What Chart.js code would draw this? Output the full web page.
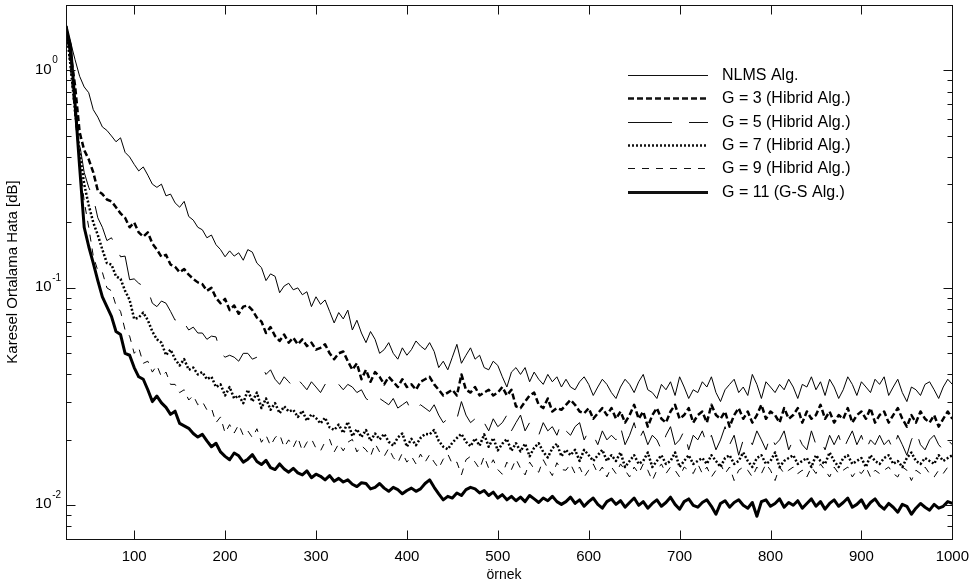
<!DOCTYPE html>
<html>
<head>
<meta charset="utf-8">
<title>Karesel Ortalama Hata</title>
<script src="https://cdn.jsdelivr.net/npm/chart.js@4.4.1/dist/chart.umd.min.js"></script>
<style>
  html, body { margin: 0; padding: 0; background: #fff; }
  #wrap { width: 978px; height: 586px; }
</style>
</head>
<body>
<div id="wrap"><canvas id="mse_chart" width="978" height="586"></canvas></div>
<script>
// sample index: 25 .. 1000, every 5th sample
var ornek = [];
for (var n = 25; n <= 1000; n += 5) ornek.push(n);

var seriesLabels = ["NLMS Alg.", "G = 3 (Hibrid Alg.)", "G = 5 (Hibrid Alg.)",
                    "G = 7 (Hibrid Alg.)", "G = 9 (Hibrid Alg.)", "G = 11 (G-S Alg.)"];

var nlms = [
  1.60, 1.35, 1.12, 0.94, 0.84, 0.79, 0.66, 0.61, 0.55, 0.53,
  0.50, 0.47, 0.49, 0.42, 0.40, 0.37, 0.345, 0.36, 0.33, 0.30,
  0.29, 0.30, 0.265, 0.27, 0.246, 0.235, 0.25, 0.213, 0.205, 0.19,
  0.185, 0.17, 0.175, 0.158, 0.15, 0.139, 0.148, 0.14, 0.145, 0.134,
  0.15, 0.146, 0.13, 0.124, 0.108, 0.116, 0.113, 0.095, 0.102, 0.105,
  0.098, 0.10, 0.093, 0.096, 0.082, 0.091, 0.084, 0.088, 0.078, 0.069,
  0.077, 0.072, 0.079, 0.064, 0.071, 0.062, 0.056, 0.063, 0.058, 0.05,
  0.052, 0.056, 0.05, 0.047, 0.053, 0.049, 0.052, 0.057, 0.054, 0.052,
  0.056, 0.051, 0.043, 0.046, 0.042, 0.048, 0.055, 0.045, 0.049, 0.053,
  0.047, 0.049, 0.043, 0.042, 0.046, 0.044, 0.039, 0.035, 0.041, 0.043,
  0.04, 0.043, 0.037, 0.041, 0.038, 0.036, 0.04, 0.037, 0.039, 0.035,
  0.038, 0.035, 0.034, 0.037, 0.039, 0.036, 0.032, 0.035, 0.038, 0.036,
  0.033, 0.031, 0.035, 0.038, 0.036, 0.033, 0.037, 0.04, 0.034, 0.033,
  0.031, 0.036, 0.034, 0.037, 0.032, 0.039, 0.035, 0.031, 0.034, 0.033,
  0.037, 0.035, 0.039, 0.033, 0.030, 0.034, 0.036, 0.038, 0.033, 0.035,
  0.032, 0.04, 0.036, 0.031, 0.037, 0.035, 0.033, 0.036, 0.034, 0.038,
  0.035, 0.031, 0.036, 0.035, 0.039, 0.034, 0.037, 0.032, 0.038, 0.035,
  0.031, 0.034, 0.039, 0.036, 0.032, 0.037, 0.035, 0.033, 0.038, 0.036,
  0.039, 0.032, 0.035, 0.038, 0.033, 0.03, 0.035, 0.034, 0.032, 0.036,
  0.037, 0.034, 0.031, 0.035, 0.038, 0.036
];

var g3 = [
  1.60, 1.20, 0.85, 0.52, 0.43, 0.39, 0.34, 0.28, 0.27, 0.255,
  0.25, 0.235, 0.22, 0.21, 0.19, 0.20, 0.18, 0.172, 0.18, 0.16,
  0.15, 0.139, 0.142, 0.128, 0.125, 0.118, 0.122, 0.115, 0.11, 0.106,
  0.104, 0.097, 0.10, 0.09, 0.085, 0.089, 0.079, 0.083, 0.076, 0.082,
  0.083, 0.079, 0.073, 0.07, 0.062, 0.066, 0.06, 0.057, 0.061, 0.056,
  0.059, 0.055, 0.058, 0.054, 0.056, 0.052, 0.053, 0.055, 0.05, 0.047,
  0.05, 0.051, 0.046, 0.042, 0.045, 0.038, 0.042, 0.037, 0.041, 0.039,
  0.036, 0.039, 0.037, 0.035, 0.038, 0.035, 0.036, 0.034, 0.037, 0.038,
  0.039, 0.036, 0.034, 0.032, 0.033, 0.034, 0.032, 0.04, 0.034, 0.033,
  0.035, 0.032, 0.033, 0.034, 0.032, 0.033, 0.035, 0.032, 0.034, 0.0285,
  0.028, 0.03, 0.032, 0.033, 0.029, 0.028, 0.031, 0.027, 0.028, 0.0275,
  0.029, 0.0305, 0.029, 0.027, 0.0265, 0.028, 0.025, 0.0265, 0.028, 0.026,
  0.028, 0.025, 0.027, 0.024, 0.026, 0.029, 0.025, 0.027, 0.023, 0.026,
  0.028, 0.025, 0.024, 0.027, 0.029, 0.025, 0.026, 0.028, 0.024, 0.026,
  0.027, 0.024, 0.029, 0.026, 0.025, 0.027, 0.023, 0.026, 0.028, 0.025,
  0.027, 0.024, 0.026, 0.029, 0.025, 0.027, 0.026, 0.024, 0.028, 0.025,
  0.026, 0.028, 0.024, 0.027, 0.025, 0.026, 0.029, 0.025, 0.027, 0.024,
  0.026, 0.025, 0.028, 0.024, 0.026, 0.027, 0.025, 0.028, 0.024, 0.026,
  0.027, 0.024, 0.026, 0.028, 0.025, 0.023, 0.026, 0.024, 0.027, 0.025,
  0.024, 0.026, 0.023, 0.025, 0.027, 0.025
];

var g5 = [
  1.60, 1.10, 0.72, 0.46, 0.34, 0.29, 0.26, 0.21, 0.19, 0.165,
  0.17, 0.155, 0.139, 0.14, 0.109, 0.11, 0.105, 0.102, 0.098, 0.085,
  0.082, 0.087, 0.085, 0.078, 0.071, 0.074, 0.069, 0.064, 0.066, 0.062,
  0.062, 0.058, 0.06, 0.0595, 0.05, 0.048, 0.049, 0.048, 0.046, 0.05,
  0.05, 0.047, 0.048, 0.044, 0.04, 0.042, 0.038, 0.036, 0.039, 0.037,
  0.035, 0.038, 0.036, 0.034, 0.037, 0.035, 0.033, 0.036, 0.034, 0.035,
  0.036, 0.034, 0.036, 0.035, 0.033, 0.034, 0.031, 0.03, 0.032, 0.031,
  0.03, 0.029, 0.031, 0.028, 0.029, 0.03, 0.027, 0.028, 0.029, 0.028,
  0.027, 0.029, 0.026, 0.024, 0.025, 0.024, 0.025, 0.03, 0.026, 0.024,
  0.025, 0.023, 0.024, 0.022, 0.025, 0.023, 0.024, 0.026, 0.022, 0.024,
  0.026, 0.022, 0.024, 0.023, 0.021, 0.024, 0.022, 0.023, 0.021, 0.024,
  0.022, 0.021, 0.023, 0.024, 0.02, 0.022, 0.021, 0.019, 0.022, 0.02,
  0.021, 0.02, 0.023, 0.019, 0.021, 0.024, 0.02, 0.022, 0.019, 0.021,
  0.02, 0.018, 0.021, 0.023, 0.019, 0.02, 0.022, 0.018, 0.021, 0.02,
  0.022, 0.019, 0.021, 0.018, 0.02, 0.023, 0.019, 0.021, 0.017, 0.02,
  0.021, 0.019, 0.022, 0.02, 0.018, 0.021, 0.019, 0.02, 0.022, 0.018,
  0.02, 0.021, 0.019, 0.018, 0.022, 0.019, 0.02, 0.018, 0.021, 0.019,
  0.021, 0.018, 0.02, 0.022, 0.019, 0.021, 0.018, 0.02, 0.019, 0.021,
  0.019, 0.02, 0.018, 0.021, 0.019, 0.017, 0.02, 0.022, 0.019, 0.018,
  0.02, 0.021, 0.019, 0.018, 0.02, 0.019
];

var g7 = [
  1.60, 1.05, 0.65, 0.42, 0.30, 0.24, 0.20, 0.175, 0.15, 0.13,
  0.128, 0.113, 0.11, 0.097, 0.088, 0.072, 0.073, 0.077, 0.071, 0.063,
  0.058, 0.056, 0.049, 0.052, 0.047, 0.044, 0.047, 0.042, 0.043, 0.04,
  0.041, 0.038, 0.039, 0.035, 0.036, 0.032, 0.035, 0.031, 0.032, 0.0295,
  0.034, 0.03, 0.033, 0.028, 0.031, 0.0275, 0.0295, 0.0265, 0.0285, 0.027,
  0.0275, 0.0255, 0.0272, 0.0245, 0.0262, 0.0252, 0.0238, 0.0253, 0.0228, 0.0222,
  0.0235, 0.0215, 0.0242, 0.0208, 0.0224, 0.0206, 0.0222, 0.0198, 0.0214, 0.0201,
  0.0213, 0.0196, 0.0188, 0.0205, 0.0214, 0.0186, 0.0202, 0.0189, 0.0204, 0.0213,
  0.0212, 0.0222, 0.0198, 0.0186, 0.0181, 0.0194, 0.0204, 0.0213, 0.0196, 0.0187,
  0.0203, 0.0188, 0.0212, 0.0186, 0.0204, 0.0179, 0.0192, 0.0202, 0.0178, 0.0193,
  0.0177, 0.0192, 0.0168, 0.0184, 0.0193, 0.0176, 0.0166, 0.0183, 0.0192, 0.0168,
  0.018, 0.017, 0.018, 0.016, 0.018, 0.017, 0.016, 0.017, 0.018, 0.016,
  0.017, 0.016, 0.0175, 0.015, 0.016, 0.017, 0.0155, 0.016, 0.0175, 0.015,
  0.016, 0.017, 0.0155, 0.016, 0.0175, 0.015, 0.016, 0.017, 0.0155, 0.016,
  0.0165, 0.0155, 0.017, 0.016, 0.015, 0.0165, 0.017, 0.0155, 0.016, 0.0175,
  0.016, 0.015, 0.0165, 0.017, 0.0155, 0.016, 0.0175, 0.015, 0.016, 0.0165,
  0.017, 0.0155, 0.016, 0.0165, 0.015, 0.017, 0.016, 0.0155, 0.0175, 0.016,
  0.015, 0.0165, 0.017, 0.0155, 0.016, 0.0165, 0.015, 0.017, 0.016, 0.0155,
  0.0165, 0.017, 0.0155, 0.016, 0.015, 0.0165, 0.0175, 0.016, 0.0155, 0.0165,
  0.016, 0.0155, 0.017, 0.016, 0.0165, 0.017
];

var g9 = [
  1.60, 1.00, 0.60, 0.38, 0.25, 0.19, 0.14, 0.12, 0.118, 0.10,
  0.097, 0.083, 0.078, 0.064, 0.06, 0.05, 0.053, 0.045, 0.046, 0.041,
  0.044, 0.039, 0.041, 0.036, 0.036, 0.033, 0.034, 0.0305, 0.032, 0.029,
  0.03, 0.0275, 0.028, 0.024, 0.0255, 0.0215, 0.0235, 0.0215, 0.0235, 0.021,
  0.022, 0.0205, 0.0225, 0.0195, 0.021, 0.0188, 0.0205, 0.0212, 0.0185, 0.02,
  0.0185, 0.0205, 0.0178, 0.0195, 0.0202, 0.0183, 0.0178, 0.0196, 0.0201, 0.0176,
  0.0192, 0.0178, 0.0195, 0.0201, 0.0176, 0.0188, 0.018, 0.0168, 0.0192, 0.0176,
  0.0168, 0.0183, 0.0166, 0.0157, 0.0174, 0.0158, 0.0168, 0.0155, 0.0172, 0.0158,
  0.0171, 0.0158, 0.0148, 0.0163, 0.0172, 0.0155, 0.0158, 0.0138, 0.0162, 0.0168,
  0.0158, 0.0147, 0.0168, 0.0148, 0.0162, 0.0146, 0.0139, 0.0158, 0.0146, 0.0163,
  0.0148, 0.0138, 0.0158, 0.0147, 0.0142, 0.0162, 0.0148, 0.0137, 0.0157, 0.0146,
  0.0145, 0.0155, 0.014, 0.015, 0.0135, 0.0145, 0.0155, 0.014, 0.015, 0.0135,
  0.015, 0.014, 0.0155, 0.0145, 0.0135, 0.015, 0.014, 0.0155, 0.0145, 0.013,
  0.0145, 0.0155, 0.014, 0.015, 0.0145, 0.0135, 0.015, 0.0145, 0.014, 0.0155,
  0.014, 0.015, 0.0135, 0.0145, 0.0155, 0.014, 0.015, 0.013, 0.0145, 0.015,
  0.0145, 0.0135, 0.015, 0.014, 0.0155, 0.0145, 0.013, 0.015, 0.014, 0.0145,
  0.015, 0.014, 0.0145, 0.0135, 0.015, 0.014, 0.0155, 0.0145, 0.0135, 0.015,
  0.014, 0.0145, 0.015, 0.0135, 0.0145, 0.014, 0.015, 0.0135, 0.0145, 0.014,
  0.0145, 0.015, 0.014, 0.0135, 0.015, 0.0145, 0.013, 0.0145, 0.014, 0.015,
  0.014, 0.0135, 0.0145, 0.014, 0.015, 0.0145
];

var g11 = [
  1.60, 1.30, 0.70, 0.36, 0.19, 0.155, 0.13, 0.108, 0.091, 0.082,
  0.074, 0.063, 0.061, 0.050, 0.049, 0.043, 0.039, 0.038, 0.034, 0.030,
  0.0318, 0.0296, 0.0282, 0.0262, 0.0271, 0.0238, 0.0232, 0.0226, 0.0214, 0.0206,
  0.0212, 0.0198, 0.0186, 0.0193, 0.0176, 0.0168, 0.0162, 0.0174, 0.0169, 0.0158,
  0.0163, 0.0171, 0.0159, 0.0154, 0.0161, 0.0149, 0.0146, 0.0155, 0.0147, 0.0142,
  0.0148, 0.0141, 0.0138, 0.0144, 0.0134, 0.0139, 0.0136, 0.0131, 0.0137, 0.0129,
  0.0133, 0.0128, 0.0131, 0.0125, 0.0122, 0.0127, 0.0126, 0.0119, 0.0121, 0.0126,
  0.012, 0.0116, 0.0121, 0.0118, 0.0113, 0.0117, 0.012, 0.0116, 0.0119, 0.0126,
  0.0131, 0.0121, 0.0113, 0.0106, 0.011, 0.0108, 0.0114, 0.0111, 0.0118, 0.0121,
  0.0119, 0.0114, 0.0117, 0.0111, 0.0115, 0.0108, 0.0112, 0.0106, 0.011, 0.0105,
  0.0109, 0.0104, 0.0111, 0.0107, 0.0103, 0.0108, 0.0105, 0.011, 0.0104, 0.0101,
  0.0104, 0.0109, 0.0102, 0.0106, 0.0099, 0.0104, 0.0108, 0.0101, 0.0097, 0.0104,
  0.0107, 0.0101, 0.0105, 0.0098, 0.0103, 0.0108, 0.01, 0.0104, 0.0097, 0.0102,
  0.0106, 0.0099, 0.0103, 0.0109, 0.0101, 0.0096, 0.0104, 0.0107, 0.01, 0.0098,
  0.0103, 0.0106, 0.0099, 0.0091, 0.0102, 0.0105, 0.0098, 0.0103, 0.0106, 0.01,
  0.0097, 0.0103, 0.0089, 0.0104, 0.0106, 0.0099, 0.0102, 0.0107, 0.0098, 0.0103,
  0.01, 0.0105, 0.0097, 0.0102, 0.0107, 0.0099, 0.0104, 0.0096, 0.0102, 0.0106,
  0.0099, 0.0103, 0.0108, 0.0098, 0.0101, 0.0106, 0.0097, 0.0103, 0.0107, 0.01,
  0.0096, 0.0102, 0.0098, 0.0093, 0.0101, 0.0099, 0.0091, 0.0097, 0.0102, 0.0098,
  0.0095, 0.0101, 0.0097, 0.0099, 0.0104, 0.0102
];

var xTicks = [100, 200, 300, 400, 500, 600, 700, 800, 900, 1000];
var yDecades = [-2, -1, 0];
var yMinorTicks = [0.007, 0.008, 0.009, 0.02, 0.03, 0.04, 0.05, 0.06, 0.07, 0.08, 0.09,
                   0.2, 0.3, 0.4, 0.5, 0.6, 0.7, 0.8, 0.9, 2];

var FONT = "'Liberation Sans', Arial, sans-serif";

function toPoints(values) {
    return values.map(function (v, i) { return { x: ornek[i], y: v }; });
}

// MATLAB style frame: box, inward ticks on all sides, 10^n labels, axis titles, legend
var framePlugin = {
    id: 'frame',
    afterDraw: function (chart) {
        var ctx = chart.ctx;
        var a = chart.chartArea;
        var xs = chart.scales.x, ys = chart.scales.y;
        var L = Math.round(a.left) + 0.5, R = Math.round(a.right) + 0.5;
        var T = Math.round(a.top) + 0.5, B = Math.round(a.bottom) + 0.5;

        ctx.save();
        ctx.strokeStyle = '#111';
        ctx.lineWidth = 1;
        ctx.setLineDash([]);
        ctx.strokeRect(L, T, R - L, B - T);

        ctx.beginPath();
        xTicks.forEach(function (v) {
            var px = Math.round(xs.getPixelForValue(v)) + 0.5;
            ctx.moveTo(px, B); ctx.lineTo(px, B - 9);
            ctx.moveTo(px, T); ctx.lineTo(px, T + 9);
        });
        yDecades.forEach(function (d) {
            var py = Math.round(ys.getPixelForValue(Math.pow(10, d))) + 0.5;
            ctx.moveTo(L, py); ctx.lineTo(L + 9, py);
            ctx.moveTo(R, py); ctx.lineTo(R - 9, py);
        });
        yMinorTicks.forEach(function (v) {
            var py = Math.round(ys.getPixelForValue(v)) + 0.5;
            ctx.moveTo(L, py); ctx.lineTo(L + 5, py);
            ctx.moveTo(R, py); ctx.lineTo(R - 5, py);
        });
        ctx.stroke();

        // y tick labels as 10 with a raised exponent
        ctx.fillStyle = '#000';
        ctx.textAlign = 'left';
        ctx.textBaseline = 'middle';
        yDecades.forEach(function (d) {
            var py = ys.getPixelForValue(Math.pow(10, d));
            ctx.font = '15px ' + FONT;
            ctx.fillText('10', 35, py - 1);
            var w = ctx.measureText('10').width;
            ctx.font = '10px ' + FONT;
            ctx.fillText(d === 0 ? '0' : '-' + Math.abs(d), 35 + w + 0.5, py - 10);
        });

        // axis titles
        ctx.font = '14px ' + FONT;
        ctx.textAlign = 'center';
        ctx.fillText('örnek', 504, 575);
        ctx.save();
        ctx.font = '15px ' + FONT;
        ctx.translate(13, (a.top + a.bottom) / 2);
        ctx.rotate(-Math.PI / 2);
        ctx.fillText('Karesel Ortalama Hata [dB]', 0, 0);
        ctx.restore();

        // legend
        ctx.font = '16px ' + FONT;
        ctx.textAlign = 'left';
        chart.data.datasets.forEach(function (ds, i) {
            var y = Math.round(75 + i * 23.3) + 0.5;
            ctx.beginPath();
            ctx.lineWidth = ds.borderWidth;
            ctx.setLineDash(ds.borderDash || []);
            ctx.moveTo(628, y);
            ctx.lineTo(708, y);
            ctx.stroke();
            ctx.fillText(ds.label, 722, y);
        });
        ctx.restore();
    }
};

var lineStyles = [
    { width: 1,   dash: [] },
    { width: 2.5, dash: [6, 3] },
    { width: 1,   dash: [44, 17] },
    { width: 2.5, dash: [2, 2] },
    { width: 1,   dash: [7, 7] },
    { width: 3,   dash: [] }
];
var seriesValues = [nlms, g3, g5, g7, g9, g11];

var datasets = seriesValues.map(function (vals, i) {
    return {
        label: seriesLabels[i],
        data: toPoints(vals),
        borderColor: '#000',
        backgroundColor: '#000',
        borderWidth: lineStyles[i].width,
        borderDash: lineStyles[i].dash,
        fill: false
    };
});

new Chart(document.getElementById('mse_chart').getContext('2d'), {
    type: 'line',
    data: { datasets: datasets },
    options: {
        responsive: false,
        animation: false,
        layout: { padding: { top: 5, right: 21, left: 0, bottom: 0 } },
        elements: {
            point: { radius: 0 },
            line: { tension: 0, borderJoinStyle: 'round' }
        },
        plugins: { legend: { display: false }, tooltip: { enabled: false } },
        scales: {
            x: {
                type: 'linear',
                min: 25,
                max: 1000,
                afterBuildTicks: function (s) { s.ticks = xTicks.map(function (v) { return { value: v }; }); },
                afterFit: function (s) { s.height = 47; },
                grid: { display: false, drawTicks: false },
                border: { display: false },
                ticks: {
                    color: '#000',
                    font: { family: FONT, size: 15 },
                    padding: 9,
                    maxRotation: 0,
                    autoSkip: false,
                    callback: function (v) { return String(v); }
                }
            },
            y: {
                type: 'logarithmic',
                min: 0.007,
                max: 2,
                afterFit: function (s) { s.width = 66; },
                grid: { display: false, drawTicks: false },
                border: { display: false },
                ticks: { display: false }
            }
        }
    },
    plugins: [framePlugin]
});
</script>
</body>
</html>
